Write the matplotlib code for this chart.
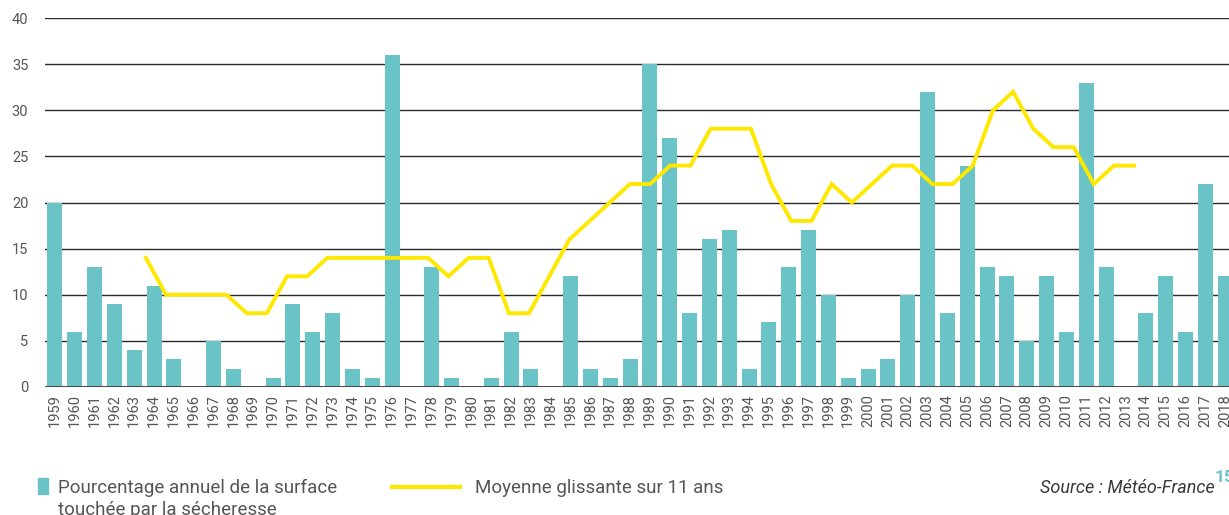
import matplotlib.pyplot as plt
import numpy as np

plt.rcParams["font.family"] = ["Roboto", "DejaVu Sans"]

YEARS = list(range(1959, 2019))

SURFACE = [
    20, 6, 13, 9, 4, 11, 3, 0, 5, 2,
    0, 1, 9, 6, 8, 2, 1, 36, 0, 13,
    1, 0, 1, 6, 2, 0, 12, 2, 1, 3,
    35, 27, 8, 16, 17, 2, 7, 13, 17, 10,
    1, 2, 3, 10, 32, 8, 24, 13, 12, 5,
    12, 6, 33, 13, 0, 8, 12, 6, 22, 12,
]

AVG_YEARS = list(range(1964, 2014))
MOVING_AVG = [
    14, 10, 10, 10, 10, 8, 8, 12, 12, 14,
    14, 14, 14, 14, 14, 12, 14, 14, 8, 8,
    12, 16, 18, 20, 22, 22, 24, 24, 28, 28,
    28, 22, 18, 18, 22, 20, 22, 24, 24, 22,
    22, 24, 30, 32, 28, 26, 26, 22, 24, 24,
]

BAR_COLOR = "#6ac3c6"
LINE_COLOR = "#ffe800"
TEXT_COLOR = "#555555"

W, H = 1229, 515
fig = plt.figure(figsize=(W / 100, H / 100), dpi=100)
# the plot runs a little past the right edge of the picture, as in the source crop
ax = fig.add_axes([45 / W, 1 - 387 / H, 1190 / W, 369 / H])

n = len(YEARS)
x = np.arange(n)
ax.bar(x, SURFACE, width=0.76, color=BAR_COLOR, zorder=2)

# the line sits on its own category axis: points on the tick marks, edge to edge
line_pos = -0.5 + np.arange(n) * n / (n - 1)
avg_x = [line_pos[YEARS.index(y)] for y in AVG_YEARS]
ax.plot(avg_x, MOVING_AVG, color=LINE_COLOR, linewidth=2.8, zorder=3,
        solid_joinstyle="miter")

ax.set_xlim(-0.5, n - 0.5)
ax.set_ylim(0, 40)
ax.set_yticks(range(0, 41, 5))
ax.set_xticks(x)
ax.set_xticklabels([str(y) for y in YEARS], rotation=90)
ax.tick_params(axis="both", length=0, colors=TEXT_COLOR)
ax.tick_params(axis="x", pad=5, labelsize=10.5)
ax.tick_params(axis="y", pad=12, labelsize=10.5)

for v in range(5, 41, 5):
    ax.axhline(v, color="#2b2b2b", linewidth=1.0, zorder=1)
ax.axhline(0, color="#444444", linewidth=1.4, zorder=4)

for side in ["top", "right", "left", "bottom"]:
    ax.spines[side].set_visible(False)

# legend drawn by hand
base1 = 1 - 493 / H
fig.patches.append(plt.Rectangle((38 / W, 1 - 494 / H), 10 / W, 16 / H,
                                 transform=fig.transFigure, color=BAR_COLOR))
fig.text(58 / W, base1, "Pourcentage annuel de la surface",
         fontsize=13.5, color=TEXT_COLOR, va="baseline", ha="left")
fig.text(58 / W, 1 - 515 / H, "touchée par la sécheresse",
         fontsize=13.5, color=TEXT_COLOR, va="baseline", ha="left")
fig.lines.append(plt.Line2D([392 / W, 460 / W], [1 - 487 / H, 1 - 487 / H],
                            transform=fig.transFigure, color=LINE_COLOR, linewidth=3))
fig.text(475 / W, base1, "Moyenne glissante sur 11 ans",
         fontsize=13.5, color=TEXT_COLOR, va="baseline", ha="left")
fig.text(1215 / W, base1, "Source : Météo-France",
         fontsize=13, color="#3a3a3a", style="italic",
         va="baseline", ha="right")
fig.text(1215 / W, 1 - 482 / H, "15", fontsize=12.5, color=BAR_COLOR,
         weight="bold", va="baseline", ha="left")

fig.savefig("out.png", dpi=100)
